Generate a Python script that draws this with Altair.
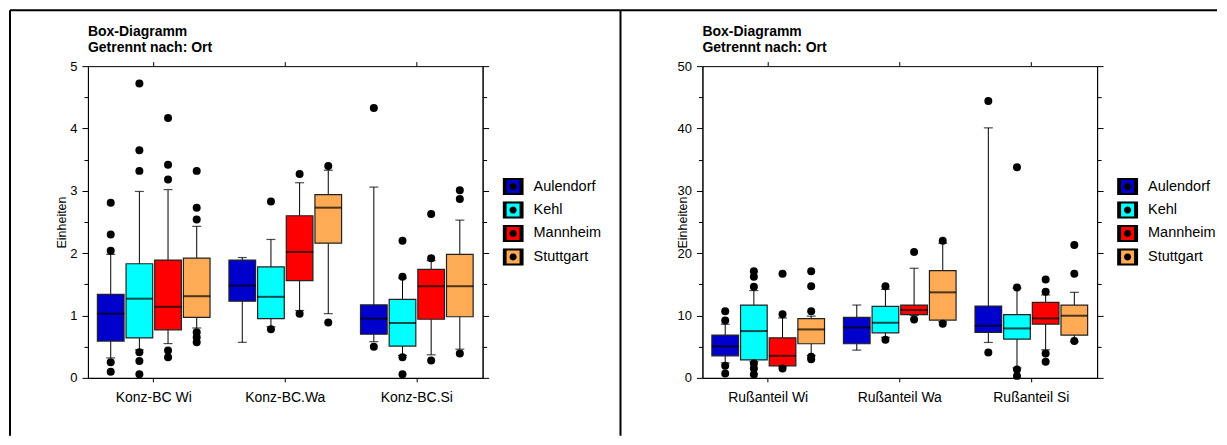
import math
import altair as alt
import pandas as pd

# ---------------- data ----------------
orte = ["Aulendorf", "Kehl", "Mannheim", "Stuttgart"]
farben = ["#0000CC", "#00FFFF", "#FF0000", "#FFAA55"]

bc_vars = ["Konz-BC Wi", "Konz-BC.Wa", "Konz-BC.Si"]
bc_lo = [[0.32, 0.45, 0.55, 0.80], [0.57, 0.82, 1.08, 1.03], [0.58, 0.36, 0.37, 0.46]]
bc_q1 = [[0.59, 0.64, 0.77, 0.97], [1.23, 0.95, 1.56, 2.16], [0.70, 0.51, 0.94, 0.98]]
bc_med = [[1.03, 1.27, 1.14, 1.31], [1.48, 1.30, 2.02, 2.73], [0.95, 0.88, 1.47, 1.47]]
bc_q3 = [[1.34, 1.83, 1.89, 1.92], [1.89, 1.78, 2.60, 2.94], [1.17, 1.26, 1.74, 1.98]]
bc_hi = [[1.98, 2.99, 3.02, 2.43], [1.93, 2.22, 3.13, 3.33], [3.06, 1.60, 1.88, 2.53]]
bc_out = [
    [[2.81, 2.30, 2.04, 0.25, 0.10], [4.72, 3.65, 3.32, 0.41, 0.27, 0.06],
     [4.17, 3.42, 3.18, 0.44, 0.33], [3.32, 2.73, 2.54, 0.73, 0.65, 0.57]],
    [[], [2.83, 0.78], [3.27, 1.03], [3.40, 0.89]],
    [[4.33, 0.50], [2.20, 1.62, 0.33, 0.06], [2.63, 1.92, 0.28], [3.01, 2.87, 0.39]],
]

rs_vars = ["Rußanteil Wi", "Rußanteil Wa", "Rußanteil Si"]
rs_lo = [[2.4, 2.6, 1.8, 3.6], [4.45, 6.5, 10.0, 9.0], [5.68, 1.6, 4.5, 5.8]]
rs_q1 = [[3.54, 2.89, 1.93, 5.47], [5.47, 7.23, 10.13, 9.27], [7.29, 6.22, 8.63, 6.86]]
rs_med = [[5.04, 7.50, 3.54, 7.77], [8.09, 8.84, 10.88, 13.72], [8.36, 7.93, 9.54, 9.97]]
rs_q3 = [[6.86, 11.68, 6.43, 9.49], [9.70, 11.47, 11.68, 17.2], [11.52, 10.13, 12.11, 11.68]]
rs_hi = [[8.6, 14.0, 9.6, 9.9], [11.68, 14.2, 17.58, 21.6], [40.1, 14.4, 13.3, 13.72]]
rs_out = [
    [[10.7, 9.2, 1.93, 0.70], [17.1, 16.2, 14.6, 2.3, 1.5, 0.54],
     [16.7, 10.2, 1.5], [17.1, 14.7, 10.7, 3.38, 3.0]],
    [[], [14.7, 6.1], [20.2, 9.38], [22.0, 8.7]],
    [[44.4, 4.07], [33.8, 14.5, 1.34, 0.32], [15.76, 13.8, 3.9, 2.57], [21.3, 16.7, 5.9]],
]

titel = ["Box-Diagramm", "Getrennt nach: Ort"]
FONT = "Liberation Sans"

# legend symbol: square with a black dot
pts = []
for k in range(12):
    a = 2 * math.pi * k / 12
    pts.append(f"{0.18*math.cos(a):.3f},{0.18*math.sin(a):.3f}")
SYMBOL = "M-1,-1H1V1H-1Z M" + " L".join(pts) + " Z"

W, H = 395, 312


def panel(vars_, lo, q1, med, q3, hi, out, ymax, step, major, title_x, first):
    rows, orows = [], []
    for i, v in enumerate(vars_):
        for j, o in enumerate(orte):
            rows.append(dict(var=v, ort=o, lo=lo[i][j], q1=q1[i][j], med=med[i][j],
                             q3=q3[i][j], hi=hi[i][j]))
            for val in out[i][j]:
                orows.append(dict(var=v, ort=o, val=val))
    box = pd.DataFrame(rows)
    odf = pd.DataFrame(orows)

    xsc = alt.Scale(domain=vars_, paddingInner=0, paddingOuter=0)
    xenc = alt.X("var:N", sort=vars_, scale=xsc,
                 axis=alt.Axis(title=None, labelAngle=0, labelFontSize=14, tickSize=4,
                               labelPadding=9, domainColor="black", tickColor="black",
                               labelColor="black", labelFont=FONT))
    xo = alt.XOffset("ort:N", sort=orte,
                     scale=alt.Scale(domain=orte, paddingInner=0.07, paddingOuter=0.33))
    ysc = alt.Scale(domain=[0, ymax], nice=False, zero=True)
    n = int(round(ymax / step))
    tvals = [round(k * step, 3) for k in range(n + 1)]
    cond_tick = {"condition": {"test": f"datum.value % {major} == 0", "value": 6}, "value": 4}
    yaxis = alt.Axis(title="Einheiten", values=tvals, labelOverlap=False,
                     labelExpr=f"datum.value % {major} == 0 ? format(datum.value, 'd') : ''",
                     tickSize=cond_tick, labelPadding=5, labelFontSize=13,
                     labelColor="black", titleColor="black", titleFontSize=12.5,
                     titleFontWeight="normal", titleX=title_x, titleY=156,
                     domainColor="black", tickColor="black", grid=False,
                     labelFont=FONT, titleFont=FONT)

    one = pd.DataFrame({"a": [0]})
    frames = []
    if first:
        frames.append(alt.Chart(one).mark_rule(color="black", strokeWidth=2).encode(
            x=alt.value(-78), y=alt.value(-56), y2=alt.value(370)))
        frames.append(alt.Chart(one).mark_rule(color="black", strokeWidth=2).encode(
            x=alt.value(-78), x2=alt.value(533), y=alt.value(-56)))
        frames.append(alt.Chart(one).mark_rule(color="black", strokeWidth=2).encode(
            x=alt.value(533), y=alt.value(-56), y2=alt.value(370)))
    else:
        frames.append(alt.Chart(one).mark_rule(color="black", strokeWidth=2).encode(
            x=alt.value(-82), x2=alt.value(515), y=alt.value(-56)))

    whisk = alt.Chart(box).mark_rule(color="black", strokeWidth=1).encode(
        x=xenc, xOffset=xo, y=alt.Y("lo:Q", scale=ysc, axis=None), y2="hi:Q")
    caplo = alt.Chart(box).mark_tick(color="black", thickness=1.2, size=9).encode(
        x=xenc, xOffset=xo, y=alt.Y("lo:Q", scale=ysc, axis=None))
    caphi = alt.Chart(box).mark_tick(color="black", thickness=1.2, size=9).encode(
        x=xenc, xOffset=xo, y=alt.Y("hi:Q", scale=ysc, axis=None))
    bars = alt.Chart(box).mark_bar(stroke="#222222", strokeWidth=1.2).encode(
        x=xenc, xOffset=xo, y=alt.Y("q1:Q", scale=ysc, axis=None), y2="q3:Q",
        color=alt.Color("ort:N", sort=orte, scale=alt.Scale(domain=orte, range=farben),
                        legend=alt.Legend(title=None, orient="none", legendX=415, legendY=112,
                                          symbolType=SYMBOL, symbolSize=289,
                                          symbolStrokeColor="black", symbolStrokeWidth=4,
                                          labelFontSize=14.5, labelColor="black",
                                          labelFont=FONT, rowPadding=6.5, clipHeight=17,
                                          labelOffset=10, padding=0)))
    medt = alt.Chart(box).mark_tick(color="black", thickness=2, size=27).encode(
        x=xenc, xOffset=xo, y=alt.Y("med:Q", scale=ysc, axis=None))
    dots = alt.Chart(odf).mark_circle(size=64, color="black", opacity=1).encode(
        x=xenc, xOffset=xo, y=alt.Y("val:Q", scale=ysc, axis=None))
    topt = alt.Chart(pd.DataFrame({"var": vars_})).mark_rule(color="black").encode(
        x=xenc, y=alt.value(0), y2=alt.value(-4))

    inner = alt.layer(*frames, whisk, caplo, caphi, bars, medt, dots, topt)
    left_ax = alt.Chart(box).mark_tick(opacity=0).encode(
        x=xenc, y=alt.Y("lo:Q", scale=ysc, axis=yaxis))
    mirror = alt.Chart(box).mark_tick(opacity=0).encode(
        x=xenc,
        y=alt.Y("lo:Q", scale=ysc,
                axis=alt.Axis(orient="right", title=None, labels=False, values=tvals,
                              tickSize=cond_tick, domainColor="black", tickColor="black",
                              grid=False)))
    return alt.layer(inner, left_ax, mirror).resolve_scale(y="independent").properties(
        width=W, height=H,
        title=alt.Title(titel, anchor="start", frame="group", fontSize=14,
                        fontWeight="bold", lineHeight=16, offset=-46, color="black",
                        font=FONT))


left = panel(bc_vars, bc_lo, bc_q1, bc_med, bc_q3, bc_hi, bc_out, 5, 0.5, 1, -19, True)
right = panel(rs_vars, rs_lo, rs_q1, rs_med, rs_q3, rs_hi, rs_out, 50, 5, 10, -13, False)

chart = alt.hconcat(left, right, spacing=220, bounds="flush").resolve_legend(
    color="independent").properties(padding=0).configure(font=FONT).configure_view(
    stroke="black", strokeWidth=1)

chart.save("out.html", embed_options={"renderer": "svg", "actions": False})
